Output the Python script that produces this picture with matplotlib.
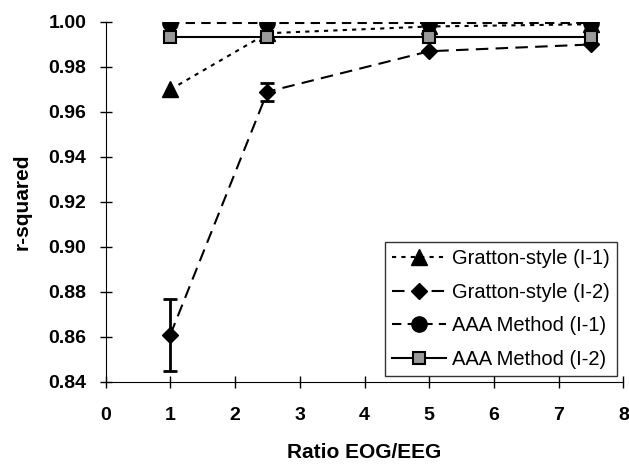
import numpy as np
import matplotlib.pyplot as plt

plt.rcParams['font.family'] = ['Liberation Sans', 'DejaVu Sans']

ratio = [1, 2.5, 5, 7.5]
gratton_i1 = [0.970, 0.995, 0.998, 0.999]
gratton_i2 = [0.861, 0.969, 0.987, 0.990]
gratton_i2_err = [0.016, 0.004, 0.0, 0.0]
aaa_i1 = [0.9995, 0.9995, 0.9995, 0.9995]
aaa_i2 = [0.9935, 0.9935, 0.9935, 0.9935]

fig = plt.figure(figsize=(6.29, 4.68), dpi=100)
ax = fig.add_axes([0.168, 0.184, 0.823, 0.769])

h1, = ax.plot(ratio, gratton_i1, color='black', ls=(0, (2, 2.5)), lw=1.5,
              marker='^', ms=11, label='Gratton-style (I-1)')
ax.errorbar(ratio, gratton_i2, yerr=gratton_i2_err, fmt='none',
            ecolor='black', capsize=5, elinewidth=2, capthick=2)
h2, = ax.plot(ratio, gratton_i2, color='black', ls=(0, (6, 3.5)), lw=1.5,
              marker='D', ms=8.5, label='Gratton-style (I-2)')
h3, = ax.plot(ratio, aaa_i1, color='black', ls=(0, (4.5, 3)), lw=1.5,
              marker='o', ms=11, label='AAA Method (I-1)')
h4, = ax.plot(ratio, aaa_i2, color='black', ls='-', lw=1.5,
              marker='s', ms=8, mfc='#9a9a9a', mec='black', mew=1.5,
              label='AAA Method (I-2)')

ax.set_xlim(0, 8)
ax.set_ylim(0.84, 1.0)
ax.set_xticks(np.arange(0, 9, 1))
ax.set_yticks(np.arange(0.84, 1.001, 0.02))
ax.yaxis.set_major_formatter(plt.FormatStrFormatter('%.2f'))
ax.tick_params(direction='inout', length=8, width=1, labelsize=14)
ax.tick_params(axis='x', pad=14)
ax.tick_params(axis='y', pad=10)
for lab in ax.get_xticklabels() + ax.get_yticklabels():
    lab.set_fontweight('bold')

for side in ['top', 'right']:
    ax.spines[side].set_visible(False)

ax.set_xlabel('Ratio EOG/EEG', fontsize=15, fontweight='bold', labelpad=14)
ax.set_ylabel('r-squared', fontsize=15, fontweight='bold', labelpad=12)

leg = ax.legend(handles=[h1, h2, h3, h4], loc='lower right', fontsize=14.5,
                frameon=True, fancybox=False, edgecolor='black',
                handlelength=2.7, handletextpad=0.3, borderaxespad=0.3,
                borderpad=0.35, labelspacing=0.72)
leg.get_frame().set_linewidth(1)

fig.savefig('out.png', dpi=100)
